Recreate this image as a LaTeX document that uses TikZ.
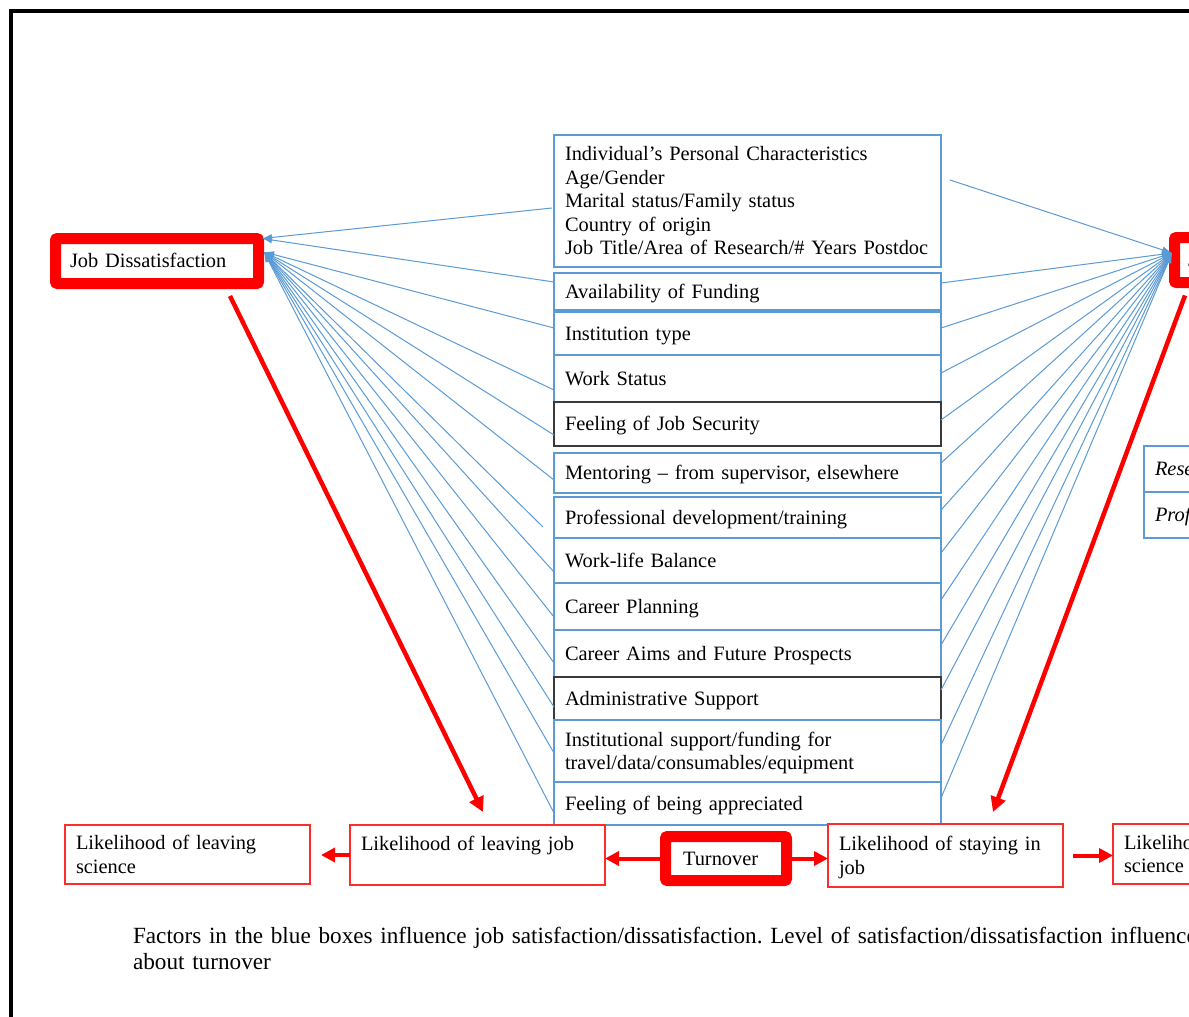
\documentclass[tikz,border=0pt]{standalone}
\usepackage{fontspec}
\setmainfont{Liberation Serif}
\usetikzlibrary{arrows.meta}
\definecolor{bbl}{HTML}{5B9BD5}
\definecolor{dk}{HTML}{3A3A3A}
\definecolor{rd}{HTML}{FF0000}
\definecolor{rdthin}{HTML}{FF2A2A}
\newcommand\boxstrut{\rule[-5pt]{0pt}{23.5pt}}
\frenchspacing
\begin{document}
\begin{tikzpicture}[x=1pt,y=-1pt,
  every node/.style={outer sep=0pt},
  fs/.style={font=\fontsize{20.4}{23.5}\selectfont},
  bluebox/.style={draw=bbl, fill=white, line width=1.5pt, fs, anchor=north west,
    minimum width=387pt, text width=365pt, inner xsep=11pt, inner ysep=0pt, align=left,
    execute at begin node=\boxstrut, execute at end node=\boxstrut},
  darkbox/.style={bluebox, draw=dk},
  sidebox/.style={bluebox, minimum width=250pt, text width=228pt, font=\fontsize{20.4}{23.5}\selectfont\itshape},
  thickred/.style={draw=rd, fill=white, line width=11pt, rounded corners=2pt, fs, anchor=north west,
    inner xsep=14.5pt, inner ysep=0pt, align=left, minimum height=45pt,
    execute at begin node=\boxstrut, execute at end node=\boxstrut},
  thinred/.style={draw=rdthin, fill=white, line width=1.5pt, fs, anchor=north west,
    inner xsep=11pt, inner ysep=0pt, align=left,
    execute at begin node=\boxstrut, execute at end node=\boxstrut},
  fan/.style={draw=bbl, line width=1pt, -{Latex[length=10pt,width=7pt]}},
  redarrow/.style={draw=rd, line width=4.5pt, -{Triangle[length=15pt,width=15pt]}},
  redshort/.style={draw=rd, line width=4pt, -{Triangle[length=14pt,width=14pt]}},
]
\useasboundingbox (0,0) rectangle (1189,1017);
\clip (0,0) rectangle (1189,1017);
\fill[white] (0,0) rectangle (1189,1017);
\draw[line width=3.4pt] (11,1100) -- (11,11) -- (1400,11);

% blue factor boxes
\node[bluebox, minimum height=132pt] (b1) at (554,135) {Individual’s Personal Characteristics\\Age/Gender\\Marital status/Family status\\Country of origin\\Job Title/Area of Research/\# Years Postdoc};
\node[bluebox, minimum height=37pt] (b2) at (554,273) {Availability of Funding};
\node[bluebox, minimum height=43pt] (b3) at (554,312) {Institution type};
\node[bluebox, minimum height=47pt] (b4) at (554,355) {Work Status};
\node[darkbox, minimum height=44pt] (b5) at (554,402) {Feeling of Job Security};
\node[bluebox, minimum height=40pt] (b6) at (554,453) {Mentoring – from supervisor, elsewhere};
\node[bluebox, minimum height=41pt] (b7) at (554,497) {Professional development/training};
\node[bluebox, minimum height=45pt] (b8) at (554,538) {Work-life Balance};
\node[bluebox, minimum height=47pt] (b9) at (554,583) {Career Planning};
\node[bluebox, minimum height=47pt] (b10) at (554,630) {Career Aims and Future Prospects};
\node[darkbox, minimum height=43pt] (b11) at (554,677) {Administrative Support};
\node[bluebox, minimum height=62pt] (b12) at (554,720) {Institutional support/funding for\\travel/data/consumables/equipment};
\node[bluebox, minimum height=43pt] (b13) at (554,782) {Feeling of being appreciated};

% side boxes (cut off at right)
\node[sidebox, minimum height=46pt] (r1) at (1144,446) {Research};
\node[sidebox, minimum height=46pt] (r2) at (1144,492) {Professional};

% main red boxes
\node[thickred, text width=174pt] (jd) at (55.5,238.5) {Job Dissatisfaction};
\node[thickred, text width=174pt, inner xsep=13.5pt] (js) at (1174.5,237.5) {Job Satisfaction};
\node[thickred, text width=86pt, inner xsep=17.5pt, minimum height=44pt] (to) at (665.5,836.5) {Turnover};

% outcome boxes
\node[thinred, text width=223pt, minimum height=59pt] (s1) at (65,825) {Likelihood of leaving\\science};
\node[thinred, text width=233pt, minimum height=60pt] (s2) at (350,825) {Likelihood of leaving job\\\mbox{}};
\node[thinred, text width=213pt, minimum height=63pt] (s3) at (828,824) {Likelihood of staying in\\job};
\node[thinred, text width=223pt, minimum height=60pt] (s4) at (1113,824) {Likelihood of staying in\\science};

% caption
\node[anchor=north west, inner sep=0pt, font=\fontsize{23.2}{26.3}\selectfont, text width=1300pt, align=left] (cap) at (133,927)
  {Factors in the blue boxes influence job satisfaction/dissatisfaction. Level of satisfaction/dissatisfaction influences\\about turnover};

% convergence points
\coordinate (jdA) at ([xshift=3.5pt]jd.north east);
\coordinate (jdB) at ([xshift=5.5pt,yshift=-13.5pt]jd.north east);
\coordinate (jsT) at ([xshift=-2.5pt,yshift=7pt]js.west);

% left fan
\draw[fan] ([xshift=-2pt,yshift=-7pt]b1.west) -- (jdA);
\draw[fan] ([yshift=9.5pt]b2.west) -- (jdA);
\draw[fan] ([yshift=5.5pt]b3.west) -- (jdB);
\draw[fan] ([yshift=-11.5pt]b4.west) -- (jdB);
\draw[fan] ([yshift=-11pt]b5.west) -- (jdB);
\draw[fan] ([yshift=-7pt]b6.west) -- (jdB);
\draw[fan] ([xshift=-11pt,yshift=-9.5pt]b7.west) -- (jdB);
\draw[fan] ([yshift=-11.5pt]b8.west) -- (jdB);
\draw[fan] ([yshift=-10.5pt]b9.west) -- (jdB);
\draw[fan] ([yshift=-9.5pt]b10.west) -- (jdB);
\draw[fan] ([yshift=-8.5pt]b11.west) -- (jdB);
\draw[fan] ([yshift=-2pt]b12.west) -- (jdB);
\draw[fan] ([yshift=-9.5pt]b13.west) -- (jdB);

% right fan
\draw[fan] ([xshift=9pt,yshift=21pt]b1.east) -- (jsT);
\draw[fan] ([yshift=8.5pt]b2.east) -- (jsT);
\draw[fan] ([yshift=5.5pt]b3.east) -- (jsT);
\draw[fan] ([yshift=5.5pt]b4.east) -- (jsT);
\draw[fan] ([yshift=4pt]b5.east) -- (jsT);
\draw[fan] ([yshift=10pt]b6.east) -- (jsT);
\draw[fan] ([yshift=7.5pt]b7.east) -- (jsT);
\draw[fan] ([yshift=7.5pt]b8.east) -- (jsT);
\draw[fan] ([yshift=6.5pt]b9.east) -- (jsT);
\draw[fan] ([yshift=8.5pt]b10.east) -- (jsT);
\draw[fan] ([yshift=8.5pt]b11.east) -- (jsT);
\draw[fan] ([yshift=6pt]b12.east) -- (jsT);
\draw[fan] ([yshift=5.5pt]b13.east) -- (jsT);

% red diagonal arrows
\draw[redarrow] ([xshift=73pt,yshift=-12.5pt]jd.south) -- ([xshift=5.5pt,yshift=13pt]s2.north);
\draw[redarrow] ([xshift=-90pt,yshift=-13pt]js.south) -- ([xshift=47.5pt,yshift=12pt]s3.north);

% bottom arrows
\draw[redshort] (to.west) -- (to.west -| s2.east);
\draw[redshort, shorten >=11pt] (s2.west) -- (s2.west -| s1.east);
\draw[redshort] (to.east) -- (to.east -| s3.west);
\draw[redshort, shorten <=10pt] (s3.east) -- (s3.east -| s4.west);
\end{tikzpicture}
\end{document}
